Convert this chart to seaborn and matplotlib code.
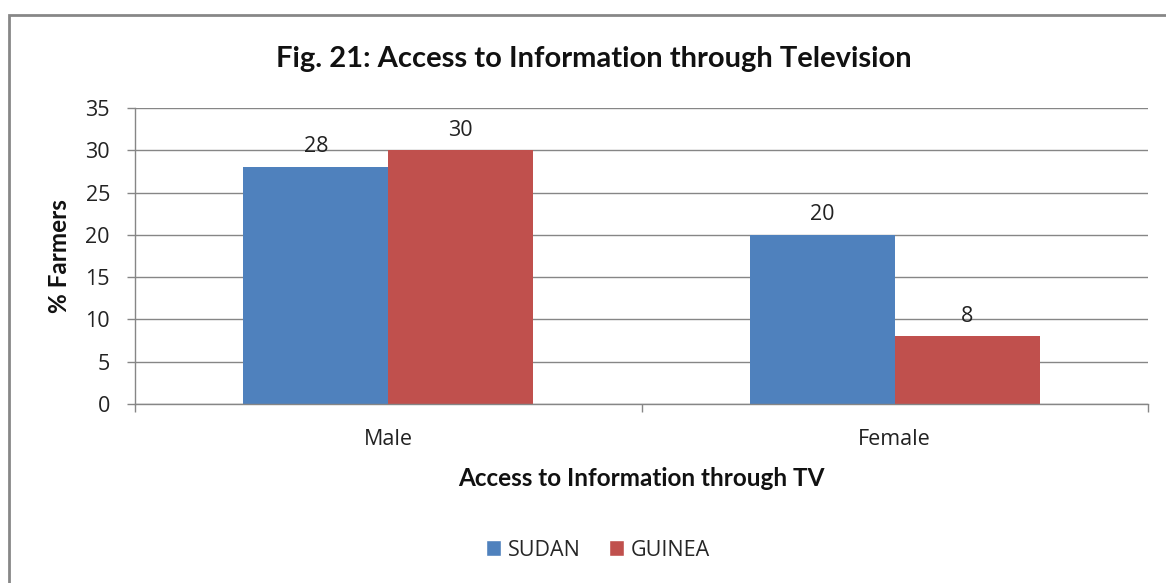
import matplotlib
matplotlib.use("Agg")
import matplotlib.pyplot as plt
import seaborn as sns
import pandas as pd
from matplotlib.patches import Rectangle, Patch

categories = ["Male", "Female"]
countries = ["SUDAN", "GUINEA"]
sudan = [28, 20]
guinea = [30, 8]
yticks = [0, 5, 10, 15, 20, 25, 30, 35]

df = pd.DataFrame({
    "cat": categories * 2,
    "country": ["SUDAN"] * 2 + ["GUINEA"] * 2,
    "val": sudan + guinea,
})

sns.set_theme(style="white")
plt.rcParams["font.family"] = ["Open Sans", "DejaVu Sans"]
BOLD = ["Lato", "DejaVu Sans"]
FS = 15.5

colors = {"SUDAN": "#4F81BD", "GUINEA": "#C0504D"}
fig = plt.figure(figsize=(11.66, 5.83), dpi=100)
ax = fig.add_axes([135/1166, 1-404/583, (1148-135)/1166, (404-108)/583])

sns.barplot(data=df, x="cat", y="val", hue="country", order=categories,
            hue_order=countries, palette=colors, width=0.572, dodge=True,
            saturation=1, ax=ax, legend=False, linewidth=0)

ax.set_ylim(0, 35)
ax.set_xlim(-0.5, 1.5)
ax.set_yticks(yticks)
ax.yaxis.grid(True, color="#868686", linewidth=1)
ax.set_axisbelow(True)
for s in ["top", "right"]:
    ax.spines[s].set_visible(False)
for s in ["left", "bottom"]:
    ax.spines[s].set_color("#868686")
    ax.spines[s].set_linewidth(1)
ax.tick_params(axis="y", length=6, width=1, color="#868686", left=True,
               labelsize=FS, pad=12, labelcolor="#222222")
ax.tick_params(axis="x", which="major", length=0, labelsize=FS, pad=18,
               labelcolor="#222222")
ax.set_xticks([-0.5, 0.5, 1.5], minor=True)
ax.tick_params(axis="x", which="minor", length=6, width=1, color="#868686",
               bottom=True)

for cont in ax.containers:
    for bar in cont:
        h = bar.get_height()
        ax.annotate(f"{h:g}", (bar.get_x() + bar.get_width()/2, h),
                    xytext=(0, 7), textcoords="offset points",
                    ha="center", va="bottom", fontsize=FS, color="#222222")

ax.set_xlabel("Access to Information through TV", fontsize=17.5,
              fontweight="bold", labelpad=12, color="#111111", family=BOLD)
ax.set_ylabel("% Farmers", fontsize=17.5, fontweight="bold", labelpad=10,
              color="#111111", family=BOLD)
fig.text(594/1166, 1-58.5/583, "Fig. 21: Access to Information through Television",
         ha="center", va="center", fontsize=21, fontweight="bold",
         color="#111111", family=BOLD)

handles = [Patch(facecolor=colors[c], label=c) for c in countries]
fig.legend(handles=handles, loc="center", bbox_to_anchor=(598/1166, 1-550/583),
           ncol=2, frameon=False, fontsize=FS, handlelength=0.7,
           handleheight=0.7, handletextpad=0.3, columnspacing=1.3)

fig.add_artist(Rectangle((9/1166, -0.05), 1.1, 1-15/583+0.05,
                         transform=fig.transFigure, fill=False,
                         edgecolor="#878787", linewidth=2))

fig.savefig("out.png", dpi=100)
